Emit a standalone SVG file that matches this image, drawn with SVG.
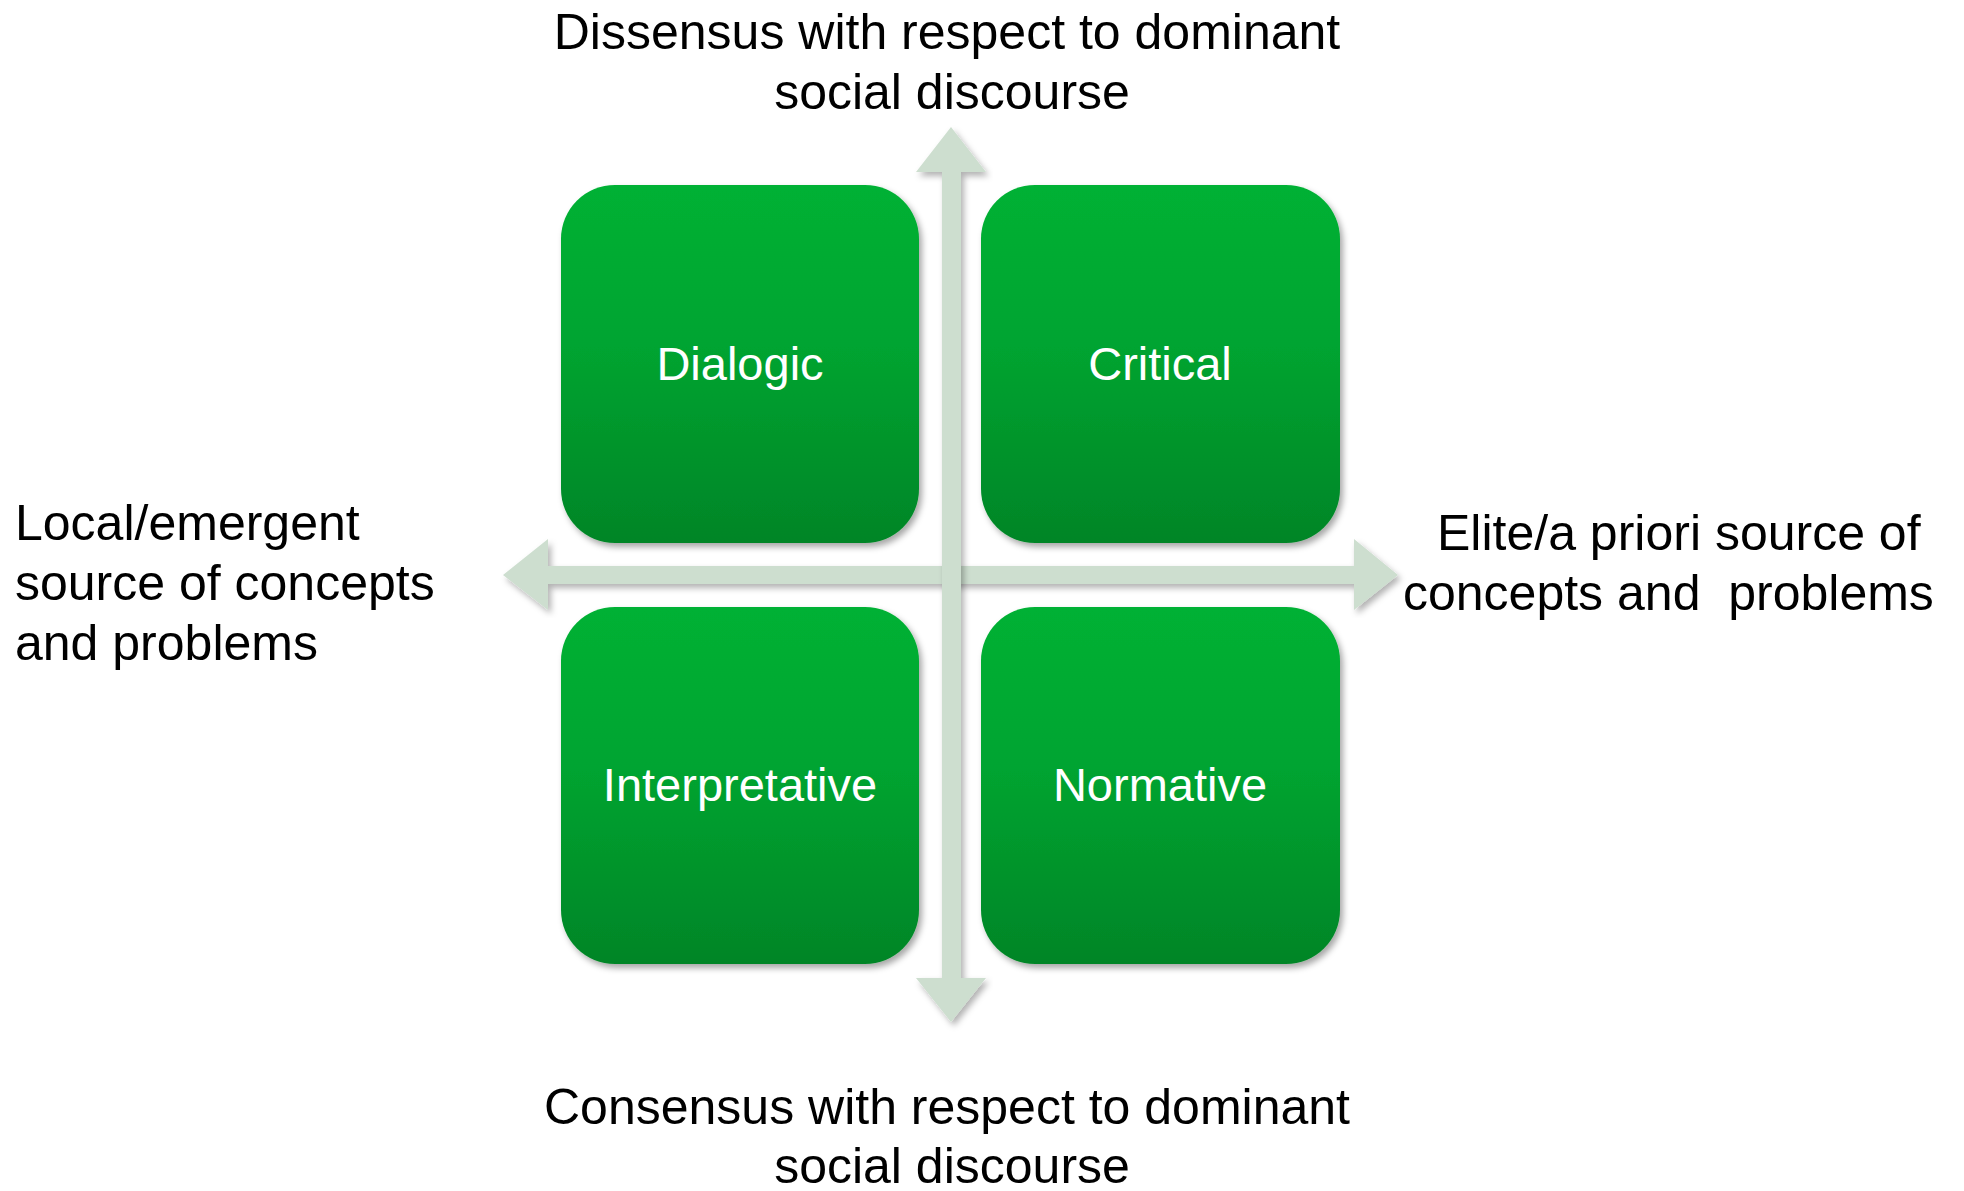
<svg xmlns="http://www.w3.org/2000/svg" width="1964" height="1191" viewBox="0 0 1964 1191">
  <style>
    .lbl { font-family: "Liberation Sans", Arial, sans-serif; font-size: 50px; fill: #000000; }
    .box { fill: url(#boxGrad); filter: url(#shadow); }
    .boxtxt { font-family: "Liberation Sans", Arial, sans-serif; font-size: 47px; fill: #ffffff; text-anchor: middle; }
    .axis { fill: #cddecf; filter: url(#shadowA); }
  </style>
  <defs>
    <linearGradient id="boxGrad" x1="0" y1="0" x2="0" y2="1">
      <stop offset="0" stop-color="#00b134"/>
      <stop offset="0.45" stop-color="#00a430"/>
      <stop offset="1" stop-color="#008527"/>
    </linearGradient>
    <filter id="shadow" x="-10%" y="-10%" width="125%" height="125%">
      <feDropShadow dx="3" dy="4" stdDeviation="3" flood-color="#000000" flood-opacity="0.35"/>
    </filter>
    <filter id="shadowA" x="-5%" y="-5%" width="115%" height="115%">
      <feDropShadow dx="3" dy="4" stdDeviation="3" flood-color="#000000" flood-opacity="0.3"/>
    </filter>
  </defs>
  <rect width="1964" height="1191" fill="#ffffff"/>

  <g id="connectors">
    <polygon class="axis" points="503,575 548,539 548,566 1354,566 1354,539 1398,575 1354,610 1354,584 548,584 548,610"/>
    <polygon class="axis" points="951,127 986,172 961,172 961,978 986,978 951,1022 916,978 942,978 942,172 916,172"/>
  </g>

  <g id="dialogic">
    <rect class="box" x="561" y="185" width="358" height="358" rx="54" ry="54"/>
    <text class="boxtxt" x="740" y="380">Dialogic</text>
  </g>
  <g id="critical">
    <rect class="box" x="981" y="185" width="359" height="358" rx="54" ry="54"/>
    <text class="boxtxt" x="1160" y="380">Critical</text>
  </g>
  <g id="interpretative">
    <rect class="box" x="561" y="607" width="358" height="357" rx="54" ry="54"/>
    <text class="boxtxt" x="740" y="801">Interpretative</text>
  </g>
  <g id="normative">
    <rect class="box" x="981" y="607" width="359" height="357" rx="54" ry="54"/>
    <text class="boxtxt" x="1160" y="801">Normative</text>
  </g>

  <g id="label-top">
    <text class="lbl" x="947" y="49" text-anchor="middle">Dissensus with respect to dominant</text>
    <text class="lbl" x="952" y="109" text-anchor="middle">social discourse</text>
  </g>
  <g id="label-bottom">
    <text class="lbl" x="947" y="1124" text-anchor="middle">Consensus with respect to dominant</text>
    <text class="lbl" x="952" y="1183" text-anchor="middle">social discourse</text>
  </g>
  <g id="label-left">
    <text class="lbl" x="15" y="540">Local/emergent</text>
    <text class="lbl" x="15" y="600">source of concepts</text>
    <text class="lbl" x="15" y="660">and problems</text>
  </g>
  <g id="label-right">
    <text class="lbl" x="1437" y="550">Elite/a priori source of</text>
    <text class="lbl" x="1403" y="610" xml:space="preserve">concepts and  problems</text>
  </g>
</svg>
